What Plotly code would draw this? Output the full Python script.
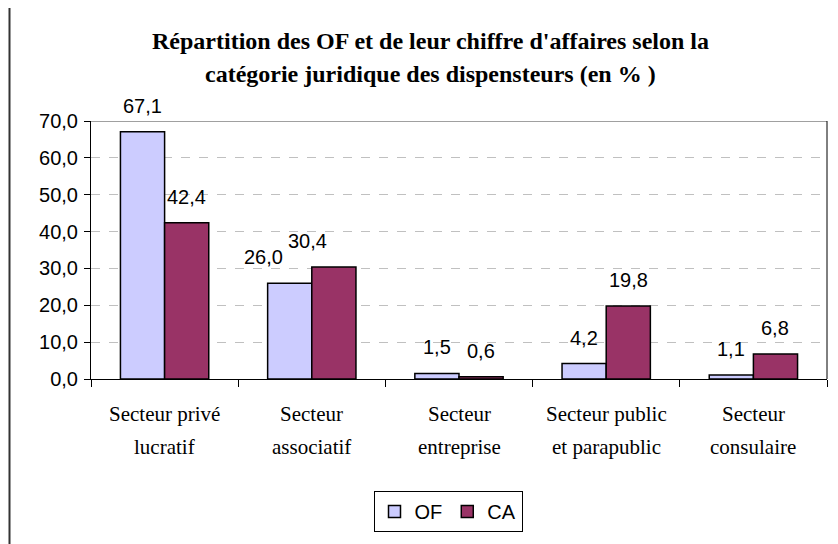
import plotly.graph_objects as go

categories = ["Secteur privé lucratif", "Secteur associatif", "Secteur entreprise",
              "Secteur public et parapublic", "Secteur consulaire"]
label_line1 = ["Secteur privé", "Secteur", "Secteur", "Secteur public", "Secteur"]
label_line2 = ["lucratif", "associatif", "entreprise", "et parapublic", "consulaire"]
of_values = [67.1, 26.0, 1.5, 4.2, 1.1]
ca_values = [42.4, 30.4, 0.6, 19.8, 6.8]
series_names = ["OF", "CA"]
title_lines = ["Répartition des OF et de leur chiffre d'affaires selon la",
               "catégorie juridique des dispensteurs (en % )"]
y_ticks = [0, 10, 20, 30, 40, 50, 60, 70]

# page body has an 8px default margin: lay out in screen coordinates minus this offset
OFF = 8
W, H = 838 - OFF, 544 - OFF
L, T = 91 - OFF, 121 - OFF
pw, ph = 736, 258
R, B = W - L - pw, H - T - ph

def px_x(X):
    return (X - OFF - L) / pw

def px_y(Y):
    return (T + ph - (Y - OFF)) / ph

sans = "Liberation Sans, Arial, sans-serif"
serif = "Liberation Serif, Times New Roman, serif"

fig = go.Figure()
fig.add_trace(go.Bar(x=categories, y=of_values, name=series_names[0],
                     marker=dict(color="#CCCCFF", line=dict(color="black", width=1.5))))
fig.add_trace(go.Bar(x=categories, y=ca_values, name=series_names[1],
                     marker=dict(color="#993366", line=dict(color="black", width=1.5))))

annotations = []
for t, yy in zip(title_lines, [41, 74]):
    annotations.append(dict(text="<b>" + t + "</b>", x=px_x(430), y=px_y(yy), xref="paper", yref="paper",
                            showarrow=False, xanchor="center", yanchor="middle",
                            font=dict(family=serif, size=24, color="black")))
for c, l1, l2 in zip(categories, label_line1, label_line2):
    annotations.append(dict(text=l1, x=c, y=px_y(414), xref="x", yref="paper", showarrow=False,
                            xanchor="center", yanchor="middle",
                            font=dict(family=serif, size=21, color="black")))
    annotations.append(dict(text=l2, x=c, y=px_y(447), xref="x", yref="paper", showarrow=False,
                            xanchor="center", yanchor="middle",
                            font=dict(family=serif, size=21, color="black")))
label_nudge = {1: -26}
for vals, shift in [(of_values, -22), (ca_values, 22)]:
    for i, (c, v) in enumerate(zip(categories, vals)):
        annotations.append(dict(text=f"{v:.1f}".replace(".", ","), x=c, y=v, xref="x", yref="y",
                                xshift=shift + label_nudge.get(i, 0), yshift=26, showarrow=False,
                                xanchor="center", yanchor="middle",
                                font=dict(family=sans, size=20, color="black")))

shapes = [
    dict(type="rect", xref="paper", yref="paper", x0=px_x(9.5), x1=px_x(880),
         y0=px_y(620), y1=px_y(4.5), line=dict(color="#333333", width=2), fillcolor="rgba(0,0,0,0)"),
    dict(type="line", xref="paper", yref="y", x0=0, x1=1, y0=70, y1=70,
         line=dict(color="#808080", width=1.5)),
    dict(type="line", xref="paper", yref="paper", x0=1, x1=1, y0=0, y1=1,
         line=dict(color="black", width=1)),
]

fig.update_layout(
    width=W, height=H,
    margin=dict(l=L, r=R, t=T, b=B, pad=0),
    paper_bgcolor="white", plot_bgcolor="white",
    separators=", ",
    barmode="group", bargap=0.40, bargroupgap=0,
    showlegend=True,
    legend=dict(orientation="h", x=px_x(448), y=px_y(491), xanchor="center", yanchor="top",
                bordercolor="black", borderwidth=1, bgcolor="white",
                font=dict(family=sans, size=20, color="black"),
                itemwidth=30, tracegroupgap=0),
    annotations=annotations,
    shapes=shapes,
)
fig.update_xaxes(showticklabels=False, showgrid=False, showline=True, linecolor="black", linewidth=1,
                 ticks="outside", ticklen=7, tickcolor="black", tickson="boundaries", zeroline=False)
fig.update_yaxes(range=[0, 70], tickvals=y_ticks, tickformat=".1f", showline=True, linecolor="black",
                 linewidth=1, ticks="outside", ticklen=6, tickcolor="black", ticklabelstandoff=2,
                 showgrid=True, gridcolor="#C0C0C0", griddash="dash", gridwidth=1, zeroline=False,
                 tickfont=dict(family=sans, size=20, color="black"))

fig.write_html("out.html")
